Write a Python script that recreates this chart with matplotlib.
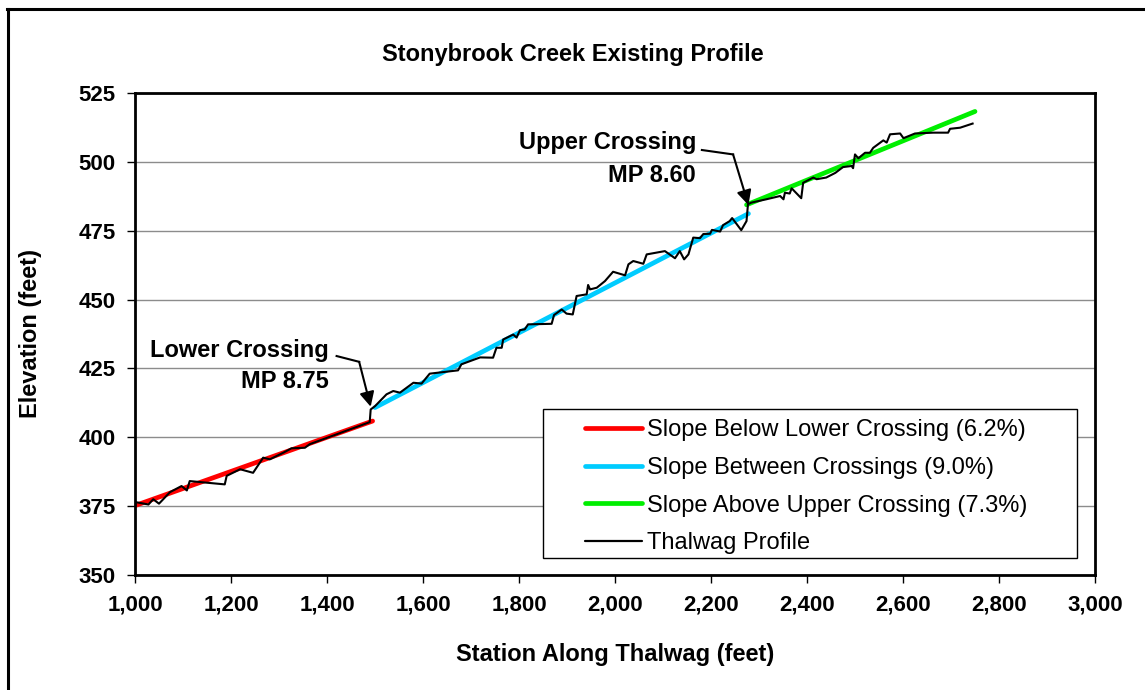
import matplotlib
matplotlib.use("Agg")
import matplotlib.pyplot as plt
from matplotlib.lines import Line2D
from matplotlib.patches import Rectangle
from matplotlib.ticker import FuncFormatter

plt.rcParams['font.family'] = ['Liberation Sans', 'DejaVu Sans']

# thalwag profile (station ft, elevation ft)
station = [1000, 1028, 1038, 1050, 1073, 1097, 1108, 1114, 1187, 1191,
           1219, 1246, 1267, 1281, 1309, 1326, 1354, 1364, 1489, 1491,
           1500, 1524, 1538, 1552, 1580, 1597, 1614, 1673, 1680, 1719,
           1746, 1753, 1764, 1767, 1788, 1795, 1802, 1812, 1819, 1868,
           1873, 1889, 1899, 1912, 1920, 1941, 1944, 1948, 1962, 1979,
           1996, 2021, 2028, 2038, 2059, 2066, 2104, 2125, 2135, 2144,
           2153, 2163, 2177, 2184, 2198, 2202, 2219, 2225, 2239, 2244,
           2263, 2274, 2277, 2284, 2315, 2344, 2351, 2354, 2364, 2368,
           2388, 2392, 2413, 2420, 2440, 2459, 2475, 2493, 2496, 2500,
           2507, 2521, 2531, 2538, 2559, 2566, 2573, 2594, 2601, 2625,
           2663, 2694, 2698, 2719, 2745]
elev = [376.5, 375.6, 377.5, 375.9, 380.1, 382.3, 380.7, 384.1, 382.9, 386.0,
        388.4, 387.1, 392.6, 392.0, 394.4, 396.0, 396.2, 397.5, 405.5, 410.1,
        411.3, 415.6, 416.8, 416.2, 419.8, 419.5, 423.1, 424.3, 426.5, 429.0,
        428.9, 432.5, 432.5, 435.5, 437.3, 436.2, 438.9, 439.2, 441.0, 441.2,
        444.4, 446.4, 444.9, 444.6, 451.3, 451.9, 455.3, 453.7, 454.3, 456.7,
        460.1, 458.8, 462.8, 464.0, 463.0, 466.4, 467.6, 465.0, 467.6, 464.6,
        466.4, 472.5, 472.3, 473.8, 473.9, 475.3, 474.7, 477.0, 478.5, 479.6,
        475.2, 478.5, 484.6, 485.2, 486.4, 487.6, 486.4, 488.8, 488.5, 490.4,
        486.8, 492.4, 494.3, 493.7, 494.3, 496.0, 498.1, 498.5, 497.7, 502.7,
        501.3, 503.3, 503.3, 505.1, 507.8, 507.0, 510.0, 510.3, 508.6, 510.3,
        510.6, 510.6, 512.0, 512.4, 513.9]

# fitted slope segments (endpoints)
below_x = [1000, 1495]
below_y = [375.2, 405.9]
between_x = [1500, 2278]
between_y = [410.8, 481.2]
above_x = [2274, 2750]
above_y = [484.4, 518.3]

labels = ['Slope Below Lower Crossing (6.2%)', 'Slope Between Crossings (9.0%)',
          'Slope Above Upper Crossing (7.3%)', 'Thalwag Profile']
colors = ['#FF0000', '#00CCFF', '#00EE00', 'black']

W, H = 1145, 690
fig = plt.figure(figsize=(W / 100, H / 100), dpi=100)
ax = fig.add_axes([135 / W, 1 - 575 / H, 960 / W, 482 / H])

ax.plot(below_x, below_y, color=colors[0], lw=3.4, solid_capstyle='round', label=labels[0])
ax.plot(between_x, between_y, color=colors[1], lw=3.4, solid_capstyle='round', label=labels[1])
ax.plot(above_x, above_y, color=colors[2], lw=3.4, solid_capstyle='round', label=labels[2])
ax.plot(station, elev, color='black', lw=1.5, label=labels[3])

ax.set_xlim(1000, 3000)
ax.set_ylim(350, 525)
ax.set_xticks(range(1000, 3001, 200))
ax.set_yticks(range(350, 526, 25))
ax.xaxis.set_major_formatter(FuncFormatter(lambda v, p: f'{int(v):,}'))
ax.grid(axis='y', color='#8c8c8c', lw=1)
ax.set_axisbelow(True)
for s in ax.spines.values():
    s.set_linewidth(2)
ax.tick_params(direction='out', length=6, width=1, labelsize=16, pad=8)
for t in ax.get_xticklabels() + ax.get_yticklabels():
    t.set_fontweight('bold')

ax.set_xlabel('Station Along Thalwag (feet)', fontsize=17, fontweight='bold', labelpad=20)
ax.set_ylabel('Elevation (feet)', fontsize=17, fontweight='bold', labelpad=26)
fig.text(0.5, 1 - 55 / H, 'Stonybrook Creek Existing Profile', ha='center', va='center',
         fontsize=17, fontweight='bold')

# annotations with bent arrows
ax.text(1404, 429.2, 'Lower Crossing', ha='right', va='baseline', fontsize=17, fontweight='bold')
ax.text(1404, 417.8, 'MP 8.75', ha='right', va='baseline', fontsize=17, fontweight='bold')
ax.plot([1420, 1467], [429.5, 427.4], color='black', lw=1.5)
ax.annotate('', xy=(1491, 411.1), xytext=(1467, 427.4),
            arrowprops=dict(arrowstyle='-|>', color='black', lw=1.5, mutation_scale=22,
                            shrinkA=0, shrinkB=0))

ax.text(2169, 504.6, 'Upper Crossing', ha='right', va='baseline', fontsize=17, fontweight='bold')
ax.text(2169, 492.6, 'MP 8.60', ha='right', va='baseline', fontsize=17, fontweight='bold')
ax.plot([2181, 2246], [504.3, 502.7], color='black', lw=1.5)
ax.annotate('', xy=(2278, 484.3), xytext=(2246, 502.7),
            arrowprops=dict(arrowstyle='-|>', color='black', lw=1.5, mutation_scale=22,
                            shrinkA=0, shrinkB=0))

# legend: wide box drawn separately, entries placed inside it
ax.add_patch(Rectangle(((543 - 135) / 960, (575 - 558) / 482), (1077 - 543) / 960, (558 - 409) / 482,
                       transform=ax.transAxes, facecolor='white', edgecolor='black', lw=1,
                       zorder=4.5))
handles = [Line2D([], [], color=c, lw=3.4 if i < 3 else 1.6, solid_capstyle='round')
           for i, c in enumerate(colors)]
ax.legend(handles, labels, loc='upper left', bbox_to_anchor=((585 - 135) / 960, (575 - 419) / 482),
          borderaxespad=0, borderpad=0, fontsize=17, frameon=False, handlelength=2.4,
          handletextpad=0.22, labelspacing=0.67)

# outer chart border (top and left visible)
fig.add_artist(Line2D([7 / W, 1], [1 - 9 / H, 1 - 9 / H], color='black', lw=2.2))
fig.add_artist(Line2D([7.5 / W, 7.5 / W], [0, 1 - 9 / H], color='black', lw=2.2))

fig.savefig('out.png', dpi=100)
